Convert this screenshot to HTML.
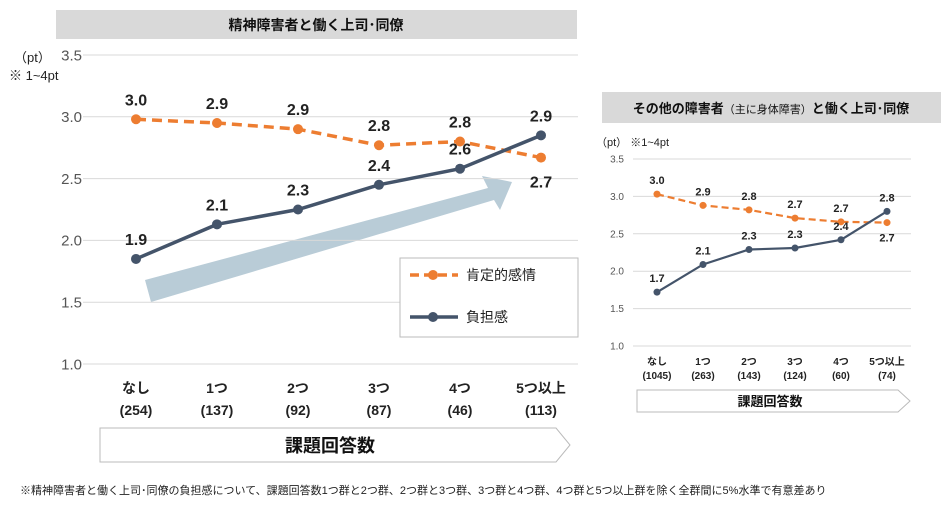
<!DOCTYPE html>
<html><head><meta charset="utf-8"><style>
body{margin:0;background:#fff;width:951px;height:510px;overflow:hidden;font-family:"Liberation Sans","Noto Sans CJK JP",sans-serif;}
svg text{font-family:"Liberation Sans","Noto Sans CJK JP",sans-serif;}
</style></head><body>
<svg id="s" width="951" height="510" xmlns="http://www.w3.org/2000/svg">
<rect x="56" y="10" width="521" height="29" fill="#d9d9d9"/>
<text x="316" y="30" font-size="14" font-weight="bold" text-anchor="middle" fill="#111">精神障害者と働く上司･同僚</text>
<text x="14" y="62" font-size="13" fill="#222">（pt）</text>
<text x="9" y="80" font-size="13" fill="#222">※ 1~4pt</text>
<polygon points="145,280 488,188 482,176 512,182 500,210 494,200 151,302" fill="#b9ccd7"/>
<g id="L"></g>
<rect x="400" y="258" width="178" height="79" fill="#fff" stroke="#bbb"/>
<line x1="410" y1="275" x2="458" y2="275" stroke="#ed7d31" stroke-width="3.5" stroke-dasharray="9,5"/>
<circle cx="433" cy="275" r="5" fill="#ed7d31"/>
<text x="466" y="280" font-size="14" fill="#222">肯定的感情</text>
<line x1="410" y1="317" x2="458" y2="317" stroke="#44546a" stroke-width="3.5"/>
<circle cx="433" cy="317" r="5" fill="#44546a"/>
<text x="466" y="322" font-size="14" fill="#222">負担感</text>
<polygon points="100,428 556,428 570,445 556,462 100,462" fill="#fff" stroke="#bbb"/>
<text x="330" y="452" font-size="18" font-weight="bold" text-anchor="middle" fill="#111">課題回答数</text>

<rect x="602" y="92" width="339" height="31" fill="#d9d9d9"/>
<text x="771" y="113" font-size="13" font-weight="bold" text-anchor="middle" fill="#111">その他の障害者<tspan font-size="11" font-weight="normal">（主に身体障害）</tspan>と働く上司･同僚</text>
<text x="596" y="146" font-size="11" fill="#222">（pt） ※1~4pt</text>
<g id="R"></g>
<polygon points="637,390 898,390 910,401 898,412 637,412" fill="#fff" stroke="#bbb"/>
<text x="770" y="406" font-size="13" font-weight="bold" text-anchor="middle" fill="#111">課題回答数</text>

<text x="20" y="494" font-size="11" fill="#222">※精神障害者と働く上司･同僚の負担感について、課題回答数1つ群と2つ群、2つ群と3つ群、3つ群と4つ群、4つ群と5つ以上群を除く全群間に5%水準で有意差あり</text>
</svg>
<script>
const categories=["なし","1つ","2つ","3つ","4つ","5つ以上"];
const leftCounts=["(254)","(137)","(92)","(87)","(46)","(113)"];
const rightCounts=["(1045)","(263)","(143)","(124)","(60)","(74)"];
const yTicks=["1.0","1.5","2.0","2.5","3.0","3.5"];
const leftPositive=[2.98,2.95,2.90,2.77,2.80,2.67];
const leftPositiveLabels=["3.0","2.9","2.9","2.8","2.8","2.7"];
const leftBurden=[1.85,2.13,2.25,2.45,2.58,2.85];
const leftBurdenLabels=["1.9","2.1","2.3","2.4","2.6","2.9"];
const rightPositive=[3.03,2.88,2.82,2.71,2.66,2.65];
const rightPositiveLabels=["3.0","2.9","2.8","2.7","2.7","2.7"];
const rightBurden=[1.72,2.09,2.29,2.31,2.42,2.80];
const rightBurdenLabels=["1.7","2.1","2.3","2.3","2.4","2.8"];
const NS="http://www.w3.org/2000/svg";
function mk(g,tag,at,txt){const e=document.createElementNS(NS,tag);for(const k in at)e.setAttribute(k,at[k]);if(txt!==undefined)e.textContent=txt;g.appendChild(e);return e;}
function draw(cfg){
  const g=document.getElementById(cfg.id);
  const y=v=>cfg.y0-(v-1)*(cfg.y0-cfg.y1)/2.5;
  const x=i=>cfg.x0+i*cfg.dx;
  yTicks.forEach(t=>{const v=parseFloat(t);
    const l=mk(g,'line',{x1:cfg.gx0,x2:cfg.gx1,y1:y(v),y2:y(v),stroke:'#d9d9d9','stroke-width':1});
    
    
    const tx=mk(g,'text',{x:cfg.lx,y:y(v)+cfg.fs*0.35,'font-size':cfg.fs,'text-anchor':'end',fill:'#555'},t);
    
    
  });
  categories.forEach((c,i)=>{
    const a=mk(g,'text',{x:x(i),y:cfg.xl1,'font-size':cfg.xfs,'font-weight':'bold','text-anchor':'middle',fill:'#222'},c);
    
    
    const b=mk(g,'text',{x:x(i),y:cfg.xl2,'font-size':cfg.xfs,'font-weight':'bold','text-anchor':'middle',fill:'#222'},cfg.counts[i]);
    
    
  });
  const series=[[cfg.pos,cfg.posL,'#ed7d31',true,'positive'],[cfg.bur,cfg.burL,'#44546a',false,'burden']];
  series.forEach(([vals,labs,col,dash,nm])=>{
    const p=mk(g,'polyline',{points:vals.map((v,i)=>x(i)+','+y(v)).join(' '),fill:'none',stroke:col,'stroke-width':cfg.sw,'stroke-dasharray':dash?cfg.dash:'none'});
    
    
    vals.forEach((v,i)=>{
      const c=mk(g,'circle',{cx:x(i),cy:y(v),r:cfg.r,fill:col});
      
      
      let ly;
      if(nm==='positive') ly=(i===5)?y(v)+cfg.below:y(v)+cfg.above;
      else ly=y(v)+cfg.above;
      const t=mk(g,'text',{x:x(i),y:ly,'font-size':cfg.vfs,'font-weight':'bold','text-anchor':'middle',fill:'#222'},labs[i]);
      
      
    });
  });
}
draw({id:'L',y0:364,y1:55,gx0:83,gx1:578,lx:82,fs:15,x0:136,dx:81,xl1:393,xl2:415,xfs:14,counts:leftCounts,pos:leftPositive,posL:leftPositiveLabels,bur:leftBurden,burL:leftBurdenLabels,sw:3.5,dash:'10,6',r:5,above:-14,below:30,vfs:16});
draw({id:'R',y0:346,y1:159,gx0:633,gx1:911,lx:624,fs:10,x0:657,dx:46,xl1:365,xl2:379,xfs:10,counts:rightCounts,pos:rightPositive,posL:rightPositiveLabels,bur:rightBurden,burL:rightBurdenLabels,sw:2.2,dash:'7,4',r:3.5,above:-10,below:19,vfs:11});
</script>
</body></html>
